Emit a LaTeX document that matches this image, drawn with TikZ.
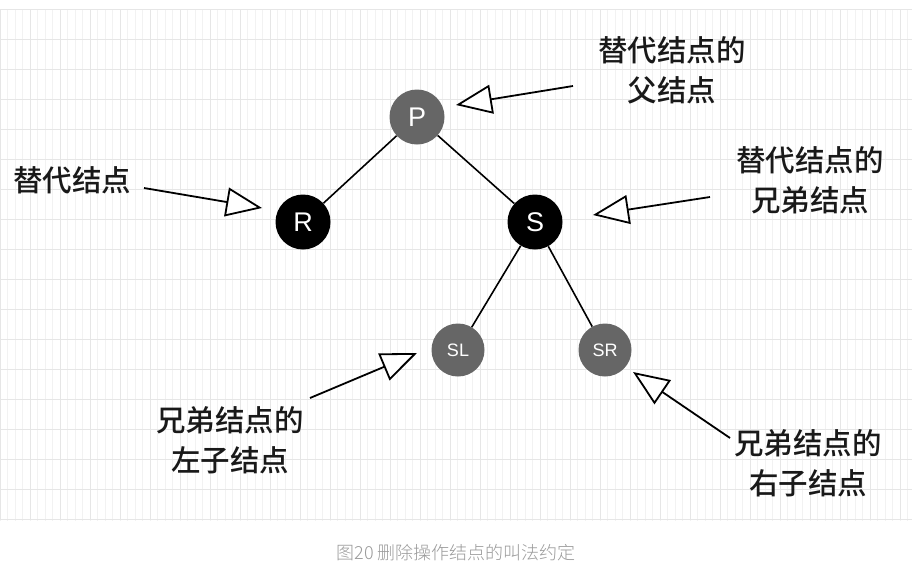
\documentclass[tikz,border=0pt]{standalone}
\usepackage{fontspec}
\setmainfont{Liberation Sans}
\newfontfamily\cjk{Noto Sans CJK SC Medium}
\newfontfamily\cjklight{Noto Sans CJK SC Light}
\usetikzlibrary{arrows.meta}
\definecolor{nodegray}{HTML}{666666}
\definecolor{gridminor}{HTML}{F2F2F2}
\definecolor{gridmajor}{HTML}{E6E6E6}
\definecolor{capgray}{HTML}{9A9A9A}
\begin{document}
\begin{tikzpicture}[x=1pt,y=-1pt,
  bignode/.style={circle,inner sep=0pt,minimum size=55pt,font=\fontsize{27}{27}\selectfont,text=white},
  smallnode/.style={circle,inner sep=0pt,minimum size=53pt,fill=nodegray,font=\fontsize{18}{18}\selectfont,text=white},
  edge/.style={line width=1.6pt,black},
  pointer/.style={line width=1.8pt,black,-{Triangle[open,length=36pt,width=29pt,fill=white,line width=1.8pt]}},
  label/.style={font=\cjk\fontsize{29.5}{40}\selectfont,align=center,inner sep=0pt,text=black!90}]
\useasboundingbox (0,0) rectangle (912,576);
\fill[white] (0,0) rectangle (912,576);
% grid
\begin{scope}
\clip (0,9) rectangle (912,520);
\draw[gridminor,line width=0.6pt] (0,9) grid[step=7.5] (912,525);
\foreach \x in {0,30,...,900} \draw[gridmajor,line width=0.7pt] (\x,9) -- (\x,520);
\foreach \y in {9,39,...,519} \draw[gridmajor,line width=0.7pt] (0,\y) -- (912,\y);
\end{scope}
% tree nodes
\node[bignode,fill=nodegray] (P) at (417,117) {P};
\node[bignode,fill=black] (R) at (303,222) {R};
\node[bignode,fill=black] (S) at (535,222) {S};
\node[smallnode] (SL) at (458,350) {SL};
\node[smallnode] (SR) at (605,350) {SR};
\draw[edge] (P) -- (R);
\draw[edge] (P) -- (S);
\draw[edge] (S) -- (SL);
\draw[edge] (S) -- (SR);
% labels
\node[label] (lP) at (672,70) {替代结点的\\父结点};
\node[label] (lR) at (72,180) {替代结点};
\node[label] (lS) at (810,180) {替代结点的\\兄弟结点};
\node[label] (lSL) at (230,440) {兄弟结点的\\左子结点};
\node[label] (lSR) at (808,463) {兄弟结点的\\右子结点};
% pointer arrows
\coordinate (aP1) at (573,86);  \coordinate (aP2) at (456,105);
\coordinate (aR1) at (144,188); \coordinate (aR2) at (262,208);
\coordinate (aS1) at (710,197); \coordinate (aS2) at (593,215);
\coordinate (aL1) at (310,398); \coordinate (aL2) at (417,353);
\coordinate (aQ1) at (730,438); \coordinate (aQ2) at (633,372);
\draw[pointer] (aP1) -- (aP2);
\draw[pointer] (aR1) -- (aR2);
\draw[pointer] (aS1) -- (aS2);
\draw[pointer] (aL1) -- (aL2);
\draw[pointer] (aQ1) -- (aQ2);
% caption
\node[font=\cjklight\fontsize{18}{18}\selectfont,text=capgray] (cap) at (456,553) {图20 删除操作结点的叫法约定};
\end{tikzpicture}
\end{document}
